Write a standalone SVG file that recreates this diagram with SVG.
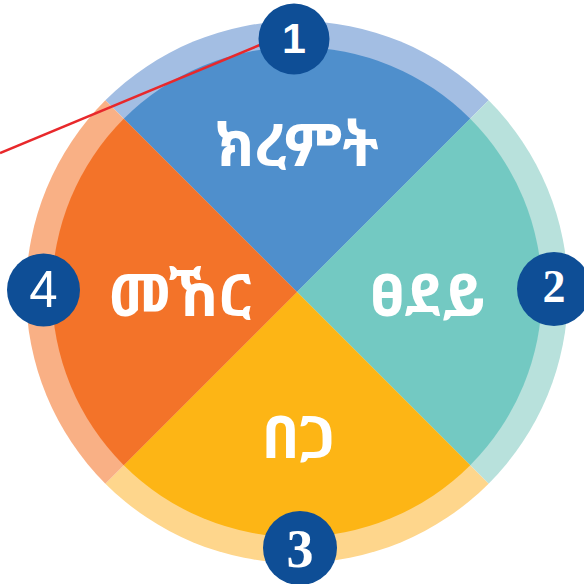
<svg xmlns="http://www.w3.org/2000/svg" width="584" height="584" viewBox="0 0 584 584">
<style>
.lbl{font-family:"Noto Sans Ethiopic","Abyssinica SIL","DejaVu Sans","Noto Sans",sans-serif;font-size:59px;fill:#fff;text-anchor:middle;font-weight:bold}
.badge{fill:#0E4E96}
.num{fill:#fff;text-anchor:middle}
</style>
<rect width="584" height="584" fill="#fff"/>
<g id="ring">
<path d="M297 292 L105.37 100.37 A271 271 0 0 1 488.63 100.37 Z" fill="#A3BEE3"/>
<path d="M297 292 L488.63 100.37 A271 271 0 0 1 488.63 483.63 Z" fill="#B8E1DC"/>
<path d="M297 292 L488.63 483.63 A271 271 0 0 1 105.37 483.63 Z" fill="#FED68C"/>
<path d="M297 292 L105.37 483.63 A271 271 0 0 1 105.37 100.37 Z" fill="#F9B085"/>
</g>
<g id="node-kiremt">
<path d="M297 292 L123.76 118.76 A245 245 0 0 1 470.24 118.76 Z" fill="#4F8FCC"/>
<text class="lbl" x="297" y="166">ክረምት</text>
</g>
<g id="node-tsedey">
<path d="M297 292 L470.24 118.76 A245 245 0 0 1 470.24 465.24 Z" fill="#73C9C2"/>
<text class="lbl" x="428" y="316">ፀደይ</text>
</g>
<g id="node-bega">
<path d="M297 292 L470.24 465.24 A245 245 0 0 1 123.76 465.24 Z" fill="#FDB515"/>
<text class="lbl" x="299" y="458">በጋ</text>
</g>
<g id="node-meher">
<path d="M297 292 L123.76 465.24 A245 245 0 0 1 123.76 118.76 Z" fill="#F37329"/>
<text class="lbl" x="180" y="316">መኸር</text>
</g>
<g id="connectors">
<line x1="0" y1="153" x2="272" y2="40" stroke="#E8282B" stroke-width="2.5"/>
</g>
<g id="badge-1">
<circle class="badge" cx="294" cy="39" r="35.5"/>
<text class="num" x="294" y="53" style="font-family:'Liberation Sans',sans-serif;font-weight:bold;font-size:43px">1</text>
</g>
<g id="badge-2">
<circle class="badge" cx="554" cy="289" r="37"/>
<text class="num" x="554" y="302" style="font-family:'Liberation Serif',serif;font-weight:bold;font-size:46px">2</text>
</g>
<g id="badge-3">
<circle class="badge" cx="300" cy="548" r="37"/>
<text class="num" x="300" y="567" style="font-family:'Liberation Serif',serif;font-weight:bold;font-size:54px">3</text>
</g>
<g id="badge-4">
<circle class="badge" cx="43.5" cy="290" r="36.5"/>
<text class="num" x="43.5" y="307" style="font-family:'Liberation Sans',sans-serif;font-size:51px">4</text>
</g>
</svg>
